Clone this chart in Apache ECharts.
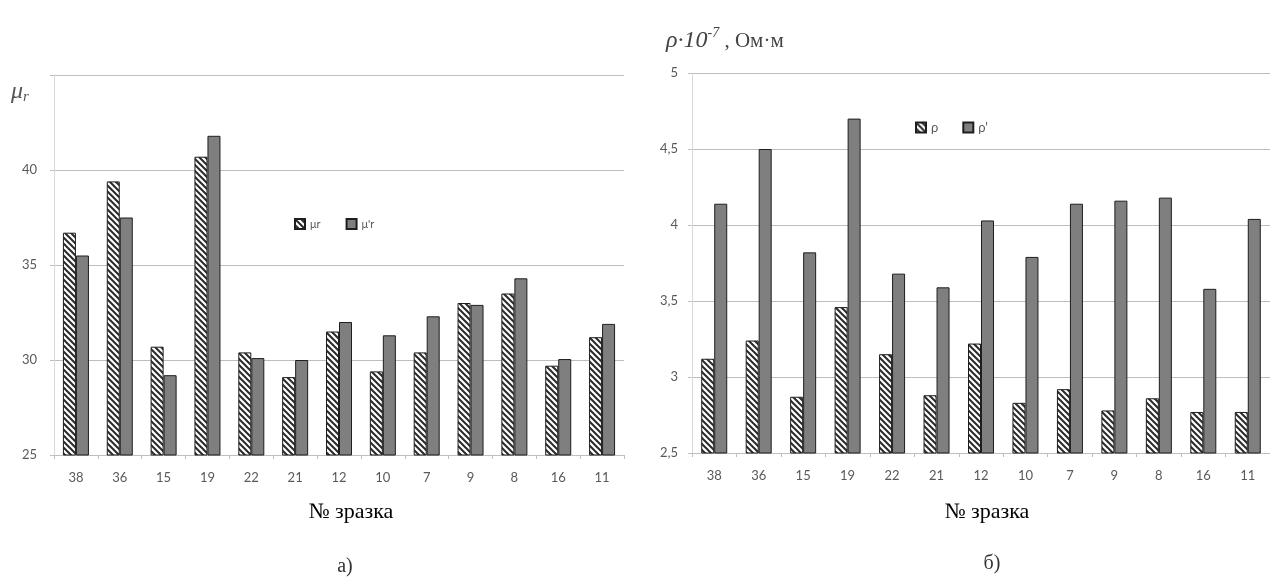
<!DOCTYPE html>
<html>
<head>
<meta charset="utf-8">
<script src="https://cdn.jsdelivr.net/npm/echarts@6/dist/echarts.min.js"></script>
<style>
html,body{margin:0;padding:0;background:#fff;}
#c{width:1270px;height:584px;}
</style>
</head>
<body>
<div id="c"></div>
<script>
// ---- data ----
const categories = ['38','36','15','19','22','21','12','10','7','9','8','16','11'];
const muR      = [36.7, 39.4, 30.7, 40.7, 30.4, 29.1, 31.5, 29.4, 30.4, 33.0, 33.5, 29.7, 31.2];
const muRprime = [35.5, 37.5, 29.2, 41.8, 30.1, 30.0, 32.0, 31.3, 32.3, 32.9, 34.3, 30.05, 31.9];
const rho      = [3.12, 3.24, 2.87, 3.46, 3.15, 2.88, 3.22, 2.83, 2.92, 2.78, 2.86, 2.77, 2.77];
const rhoPrime = [4.14, 4.50, 3.82, 4.70, 3.68, 3.59, 4.03, 3.79, 4.14, 4.16, 4.18, 3.58, 4.04];
const leftTicks = {min: 25, max: 45, interval: 5, hideTop: true};
const rightTicks = {min: 2.5, max: 5, interval: 0.5, hideTop: false};

function makeHatch(){
  const s = 6;
  const c = document.createElement('canvas');
  c.width = s; c.height = s;
  const g = c.getContext('2d');
  g.fillStyle = '#ffffff'; g.fillRect(0,0,s,s);
  g.strokeStyle = '#2a2a2a'; g.lineWidth = 2;
  g.beginPath();
  for (let k = -1; k <= 1; k++) {
    g.moveTo(-1, -1 + s*k); g.lineTo(s+1, s+1 + s*k);
  }
  g.stroke();
  return c;
}
const hatch = {image: makeHatch(), repeat: 'repeat'};
const solid = '#7f7f7f';
const gray = '#595959';
const labelFont = 'Lato, "Open Sans", sans-serif';

function xAxisFor(i){
  return {
    type: 'category', gridIndex: i, data: categories,
    axisLine: {lineStyle: {color: '#bfbfbf'}},
    axisTick: {show: true, length: 4, lineStyle: {color: '#bfbfbf'}},
    axisLabel: {color: gray, fontSize: 13, fontFamily: labelFont, margin: 16, interval: 0}
  };
}
function yAxisFor(i, t, margin){
  return {
    type: 'value', gridIndex: i, min: t.min, max: t.max, interval: t.interval,
    axisLine: {show: true, lineStyle: {color: '#d9d9d9'}},
    axisTick: {show: true, length: 4, lineStyle: {color: '#bfbfbf'}},
    splitLine: {lineStyle: {color: '#bdbdbd', width: 1}},
    axisLabel: {color: gray, fontSize: 13, fontFamily: labelFont, margin: margin,
      formatter: v => (t.hideTop && v === t.max) ? '' : String(v).replace('.', ',')}
  };
}
function barSeries(name, data, i, color){
  return {
    name: name, type: 'bar', xAxisIndex: i, yAxisIndex: i, data: data,
    barWidth: 13, barGap: '0%',
    itemStyle: {color: color, borderColor: '#1e1e1e', borderWidth: 1},
    emphasis: {disabled: true}
  };
}

const chart = echarts.init(document.getElementById('c'), null, {renderer: 'canvas'});
chart.setOption({
  animation: false,
  backgroundColor: '#ffffff',
  grid: [
    {left: 54, top: 75, width: 570, height: 380},
    {left: 692, top: 73, width: 578, height: 380}
  ],
  xAxis: [xAxisFor(0), xAxisFor(1)],
  yAxis: [yAxisFor(0, leftTicks, 17), yAxisFor(1, rightTicks, 14)],
  legend: [
    {data: ['μr', 'μ\'r'], left: 289, top: 213, icon: 'rect', itemWidth: 10, itemHeight: 10, itemGap: 25,
     textStyle: {color: gray, fontSize: 11, fontFamily: labelFont}},
    {data: ['ρ', 'ρ\''], left: 910, top: 116, icon: 'rect', itemWidth: 10, itemHeight: 10, itemGap: 24,
     textStyle: {color: gray, fontSize: 13, fontFamily: labelFont}}
  ],
  series: [
    barSeries('μr', muR, 0, hatch),
    barSeries('μ\'r', muRprime, 0, solid),
    barSeries('ρ', rho, 1, hatch),
    barSeries('ρ\'', rhoPrime, 1, solid)
  ],
  graphic: [
    {type: 'text', left: 11, top: 80, style: {
      text: '{m|μ}{s|r}',
      rich: {
        m: {fontFamily: '"Liberation Serif", serif', fontStyle: 'italic', fontSize: 24, fill: '#555'},
        s: {fontFamily: '"Liberation Serif", serif', fontStyle: 'italic', fontSize: 15, fill: '#555', padding: [10,0,0,0]}
      }}},
    {type: 'text', left: 666, top: 26, style: {
      text: '{m|ρ·10}{s|-7}{n| , Ом·м}',
      rich: {
        m: {fontFamily: '"Liberation Serif", serif', fontStyle: 'italic', fontSize: 24, fill: '#444'},
        s: {fontFamily: '"Liberation Serif", serif', fontStyle: 'italic', fontSize: 14, fill: '#444', padding: [0,0,16,0]},
        n: {fontFamily: '"Liberation Serif", serif', fontSize: 21, fill: '#444'}
      }}},
    {type: 'text', x: 351, y: 512, style: {text: '№ зразка', font: '22px "Liberation Serif", serif', fill: '#000', align: 'center', verticalAlign: 'middle'}},
    {type: 'text', x: 987, y: 512, style: {text: '№ зразка', font: '22px "Liberation Serif", serif', fill: '#000', align: 'center', verticalAlign: 'middle'}},
    {type: 'text', x: 345, y: 567, style: {text: 'а)', font: '20px "Liberation Serif", serif', fill: '#333', align: 'center', verticalAlign: 'middle'}},
    {type: 'text', x: 992, y: 564, style: {text: 'б)', font: '20px "Liberation Serif", serif', fill: '#333', align: 'center', verticalAlign: 'middle'}}
  ]
});
</script>
</body>
</html>
